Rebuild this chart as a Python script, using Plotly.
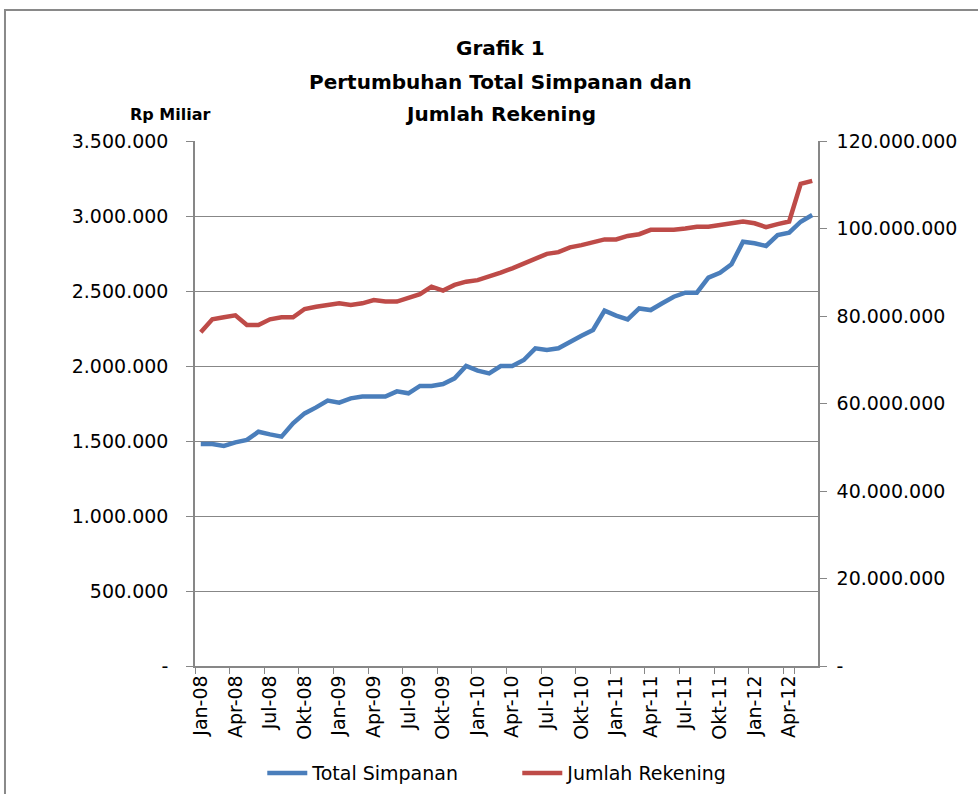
import plotly.graph_objects as go

# ---- data ----
month_names = ["Jan", "Feb", "Mar", "Apr", "Mei", "Jun", "Jul", "Agu", "Sep", "Okt", "Nov", "Des"]
years = ["08", "09", "10", "11", "12"]
categories = [f"{m}-{y}" for y in years for m in month_names][:54]  # Jan-08 .. Jun-12

total_simpanan = [
    1480000, 1480000, 1467000, 1491000, 1507000, 1562000, 1544000, 1529000, 1618000, 1684000,
    1724000, 1769000, 1756000, 1784000, 1796000, 1796000, 1796000, 1831000, 1818000, 1867000,
    1867000, 1880000, 1918000, 2000000, 1969000, 1951000, 2000000, 2000000, 2040000, 2118000,
    2107000, 2118000, 2162000, 2202000, 2240000, 2369000, 2336000, 2311000, 2384000, 2373000,
    2418000, 2462000, 2489000, 2489000, 2589000, 2622000, 2678000, 2829000, 2818000, 2800000,
    2873000, 2889000, 2962000, 3007000,
]

jumlah_rekening = [
    76270000, 79240000, 79700000, 80160000, 77940000, 77940000, 79240000, 79700000, 79700000, 81600000,
    82130000, 82440000, 82900000, 82500000, 82900000, 83660000, 83300000, 83300000, 84200000, 85000000,
    86700000, 85800000, 87100000, 87850000, 88200000, 89000000, 89900000, 90900000, 92000000, 92950000,
    94200000, 94600000, 95700000, 96200000, 96800000, 97500000, 97500000, 98300000, 98700000, 99700000,
    99700000, 99700000, 100000000, 100400000, 100400000, 100800000, 101200000, 101600000, 101200000, 100300000,
    101000000, 101600000, 110200000, 110900000,
]

left_ticks = [0, 500000, 1000000, 1500000, 2000000, 2500000, 3000000, 3500000]
left_ticktext = ["-", "500.000", "1.000.000", "1.500.000", "2.000.000", "2.500.000", "3.000.000", "3.500.000"]
right_ticks = [0, 20000000, 40000000, 60000000, 80000000, 100000000, 120000000]
right_ticktext = ["-", "20.000.000", "40.000.000", "60.000.000", "80.000.000", "100.000.000", "120.000.000"]
x_ticks = categories[::3]

title_lines = ["Grafik 1", "Pertumbuhan Total Simpanan dan", "Jumlah Rekening"]

# ---- figure ----
FONT = "DejaVu Sans"
GRID = "#878787"

fig = go.Figure()
fig.add_trace(go.Scatter(
    x=categories, y=total_simpanan, name="Total Simpanan", mode="lines",
    line=dict(color="#4A7EBB", width=4.5), yaxis="y",
))
fig.add_trace(go.Scatter(
    x=categories, y=jumlah_rekening, name="Jumlah Rekening", mode="lines",
    line=dict(color="#BE4B48", width=4.5), yaxis="y2",
))

fig.update_layout(
    width=978, height=794,
    margin=dict(l=195, r=160, t=141, b=128, autoexpand=False),
    paper_bgcolor="white", plot_bgcolor="white",
    font=dict(family=FONT, size=19, color="black"),
    showlegend=True,
    legend=dict(orientation="h", x=0.108, xanchor="left", y=-0.204, yanchor="middle",
                entrywidth=200, entrywidthmode="pixels", itemwidth=40,
                font=dict(size=19), bgcolor="rgba(0,0,0,0)"),
    xaxis=dict(
        type="category", categoryorder="array", categoryarray=categories,
        range=[-0.5, len(categories) - 0.5],
        tickmode="array", tickvals=x_ticks, ticktext=x_ticks,
        tickangle=-90, tickson="boundaries", automargin=False,
        ticks="outside", ticklen=6, tickcolor=GRID, tickwidth=1.3,
        showline=True, linecolor=GRID, linewidth=1.5,
        showgrid=False, zeroline=False,
        tickfont=dict(size=19),
    ),
    yaxis=dict(
        range=[0, 3500000], tickmode="array", tickvals=left_ticks, ticktext=left_ticktext,
        ticks="outside", ticklen=7, tickcolor=GRID, tickwidth=1.3, automargin=False,
        showline=True, linecolor=GRID, linewidth=1.5,
        showgrid=True, gridcolor=GRID, gridwidth=1.3, zeroline=False,
        ticklabelstandoff=14, tickfont=dict(size=19),
    ),
    yaxis2=dict(
        range=[0, 120000000], overlaying="y", side="right",
        tickmode="array", tickvals=right_ticks, ticktext=right_ticktext,
        ticks="outside", ticklen=7, tickcolor=GRID, tickwidth=1.3, automargin=False,
        showline=True, linecolor=GRID, linewidth=1.5,
        showgrid=False, zeroline=False,
        ticklabelstandoff=6, tickfont=dict(size=19),
    ),
)

# title lines
for text, yp in zip(title_lines, [1.177, 1.112, 1.051]):
    fig.add_annotation(text=f"<b>{text}</b>", xref="paper", yref="paper", x=0.4896, y=yp,
                       xanchor="center", yanchor="middle", showarrow=False,
                       font=dict(family=FONT, size=20, color="black"))

fig.add_annotation(text="<b>Rp Miliar</b>", xref="paper", yref="paper", x=-0.04, y=1.051,
                   xanchor="center", yanchor="middle", showarrow=False,
                   font=dict(family=FONT, size=16, color="black"))

# chart-area border
fig.add_shape(type="rect", xref="paper", yref="paper", x0=-0.305, x1=1.4, y0=-0.4, y1=1.2495,
              line=dict(color="#898989", width=2), fillcolor="rgba(0,0,0,0)", layer="below")

fig.write_html("out.html", config={"displayModeBar": False},
               post_script="document.body.style.margin='0';document.body.style.padding='0';")
